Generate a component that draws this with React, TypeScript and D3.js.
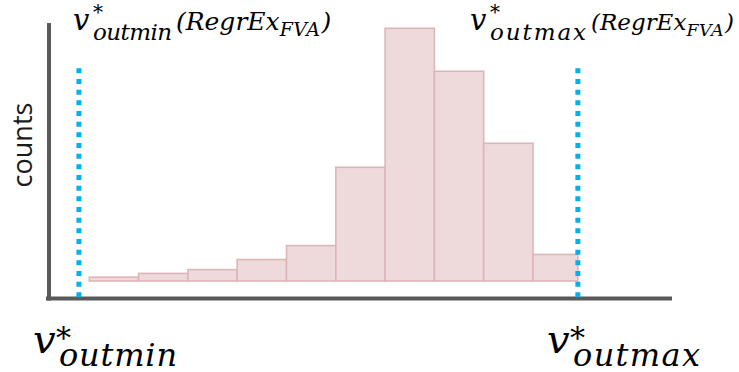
import * as d3 from 'd3';

// histogram bins (bin index edges 0..10) and counts
const binCounts = [3, 6, 9, 17, 28, 90, 200, 166, 109, 21];
const countMax = 200;
// dotted bounds, in bin units
const vOutMin = -0.21;
const vOutMax = 9.91;
const yLabel = 'counts';

const W = 739;
const H = 372;

const mathFont = '"DejaVu Serif", serif';

// v* with subscript; positions are relative to the v's left edge
const VStar = ({ x0, base, sub, subLen, big }) => {
  const s = big
    ? { v: 40, star: 30, sub: 32, starDx: 23, starDy: -5, subDx: 26, subDy: 12.5 }
    : { v: 29, star: 20, sub: 23, starDx: 20, starDy: -11, subDx: 20, subDy: 10 };
  return (
    <g fontFamily={mathFont} fontStyle="italic" fill="#000">
      <text x={x0} y={base} fontSize={s.v}>v</text>
      <text x={x0 + s.starDx} y={base + s.starDy} fontSize={s.star} fontStyle="normal">*</text>
      <text
        x={x0 + s.subDx}
        y={base + s.subDy}
        fontSize={s.sub}
        textLength={subLen}
        lengthAdjust="spacing"
      >
        {sub}
      </text>
    </g>
  );
};

const TopLabel = ({ x0, sub, subLen, parenX, fs }) => (
  <g>
    <VStar x0={x0} base={30} sub={sub} subLen={subLen} big={false} />
    <text x={parenX} y={30} fontFamily={mathFont} fontStyle="italic" fill="#000" fontSize={fs}>
      <tspan>(RegrEx</tspan>
      <tspan dy={6} fontSize={fs * 0.76} letterSpacing={0.5}>FVA</tspan>
      <tspan dy={-6} dx={1}>)</tspan>
    </text>
  </g>
);

const App = () => {
  const x = d3.scaleLinear().domain([0, binCounts.length]).range([89.3, 582.3]);
  const y = d3.scaleLinear().domain([0, countMax]).range([281, 28.3]);

  const xMinLine = x(vOutMin);
  const xMaxLine = x(vOutMax);

  const bins = binCounts.map((c, i) => ({
    x0: x(i),
    x1: Math.min(x(i + 1), xMaxLine),
    top: y(c),
  }));

  return (
    <svg
      width={W}
      height={H}
      style={{ position: 'absolute', left: 0, top: 0, background: '#fff' }}
    >
      {/* bars */}
      <g>
        {bins.map((b, i) => (
          <rect
            key={i}
            x={b.x0}
            y={b.top}
            width={b.x1 - b.x0}
            height={y(0) - b.top}
            fill="#eedada"
            stroke="#dcb6b7"
            strokeWidth={1.6}
          />
        ))}
      </g>

      {/* axes */}
      <line x1={49} x2={49} y1={23} y2={300.5} stroke="#595959" strokeWidth={4} />
      <line x1={46} x2={672} y1={298.5} y2={298.5} stroke="#595959" strokeWidth={4} />

      {/* dotted bounds */}
      {[xMinLine, xMaxLine].map((lx, i) => (
        <line
          key={i}
          x1={lx}
          x2={lx}
          y1={68.3}
          y2={297.5}
          stroke="#00b0f0"
          strokeWidth={5}
          strokeDasharray="5 5.67"
        />
      ))}

      {/* y label */}
      <text
        transform="translate(32,145) rotate(-90)"
        textAnchor="middle"
        fontFamily='"Open Sans", sans-serif'
        fontSize={27}
        fill="#1a1a1a"
      >
        {yLabel}
      </text>

      {/* top annotations */}
      <TopLabel x0={73} sub="outmin" subLen={79} parenX={176} fs={25} />
      <TopLabel x0={470} sub="outmax" subLen={96} parenX={591} fs={23} />

      {/* bottom annotations */}
      <VStar x0={33} base={353} sub="outmin" subLen={118} big />
      <VStar x0={547} base={353} sub="outmax" subLen={127} big />
    </svg>
  );
};

export default App;
